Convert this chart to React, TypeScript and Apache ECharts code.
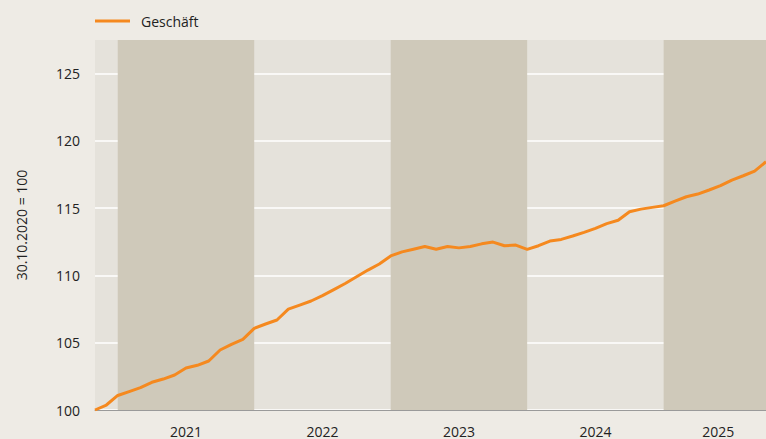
import React, { useEffect, useRef } from "react";
import * as echarts from "echarts";

// Month index 0 = 30.10.2020, monthly steps to end of Sep 2025
const values: number[] = [
  100.0, 100.37, 101.08, 101.37, 101.66, 102.06, 102.3, 102.6, 103.12, 103.32,
  103.64, 104.46, 104.88, 105.25, 106.07, 106.39, 106.69, 107.5, 107.8, 108.1,
  108.5, 108.95, 109.4, 109.9, 110.4, 110.85, 111.45, 111.75, 111.95, 112.15,
  111.95, 112.15, 112.05, 112.15, 112.35, 112.48, 112.21, 112.26, 111.94, 112.21,
  112.56, 112.68, 112.93, 113.2, 113.5, 113.85, 114.1, 114.73, 114.93, 115.06,
  115.18, 115.53, 115.85, 116.05, 116.35, 116.67, 117.09, 117.41, 117.76, 118.45,
];
const seriesName = "Geschäft";
const yearLabels: string[] = ["2021", "2022", "2023", "2024", "2025"];
const yearLabelAt: number[] = [8, 20, 32, 44, 54.8];
const darkBands: [number, number][] = [
  [2, 14],
  [26, 38],
  [50, 59],
];
const yMin = 100;
const yMax = 127.5;
const yStep = 5;

const FONT = "'Open Sans', 'Noto Sans', sans-serif";

export default function App() {
  const ref = useRef<HTMLDivElement>(null);
  useEffect(() => {
    document.body.style.margin = "0";
    if (!ref.current) return;
    const chart = echarts.init(ref.current, undefined, { renderer: "svg" });
    chart.setOption({
      animation: false,
      backgroundColor: "#eeebe5",
      textStyle: { fontFamily: FONT },
      legend: {
        left: 90,
        top: 9,
        icon: "rect",
        itemWidth: 35,
        itemHeight: 3,
        textStyle: { fontSize: 14, color: "#222", padding: [0, 0, 0, 6], fontFamily: FONT },
        data: [seriesName],
      },
      grid: {
        left: 95,
        right: 0,
        top: 40,
        bottom: 29,
        show: true,
        backgroundColor: "#e5e2db",
        borderWidth: 0,
      },
      xAxis: {
        type: "value",
        min: 0,
        max: values.length - 1,
        splitLine: { show: false },
        axisLine: { show: true, lineStyle: { color: "#9a9a9a", width: 1 } },
        axisTick: { show: false },
        axisLabel: {
          customValues: yearLabelAt,
          formatter: (v: number) => {
            const k = yearLabelAt.indexOf(v);
            return k >= 0 ? yearLabels[k] : "";
          },
          fontSize: 14,
          color: "#222",
          margin: 14,
          fontFamily: FONT,
        },
      },
      yAxis: {
        type: "value",
        min: yMin,
        max: yMax,
        interval: yStep,
        name: "30.10.2020 = 100",
        nameLocation: "middle",
        nameGap: 67,
        nameTextStyle: { fontSize: 14, color: "#222", fontFamily: FONT },
        axisLine: { show: false },
        axisTick: { show: false },
        axisLabel: {
          fontSize: 14,
          color: "#222",
          margin: 15,
          fontFamily: FONT,
          showMaxLabel: false,
          formatter: (v: number) => (v % 5 === 0 ? String(v) : ""),
        },
        splitLine: {
          show: true,
          showMaxLine: false,
          lineStyle: { color: "#ffffff", width: 1.5 },
        },
      },
      series: [
        {
          name: seriesName,
          type: "line",
          data: values.map((v, i) => [i, v]),
          symbol: "none",
          lineStyle: { color: "#f5891f", width: 3 },
          itemStyle: { color: "#f5891f" },
          z: 5,
          markArea: {
            silent: true,
            itemStyle: { color: "#cfc9ba" },
            data: darkBands.map(([a, b]) => [{ xAxis: a }, { xAxis: b }]),
          },
        },
      ],
    });
    return () => chart.dispose();
  }, []);
  return <div ref={ref} style={{ width: 766, height: 439 }} />;
}
